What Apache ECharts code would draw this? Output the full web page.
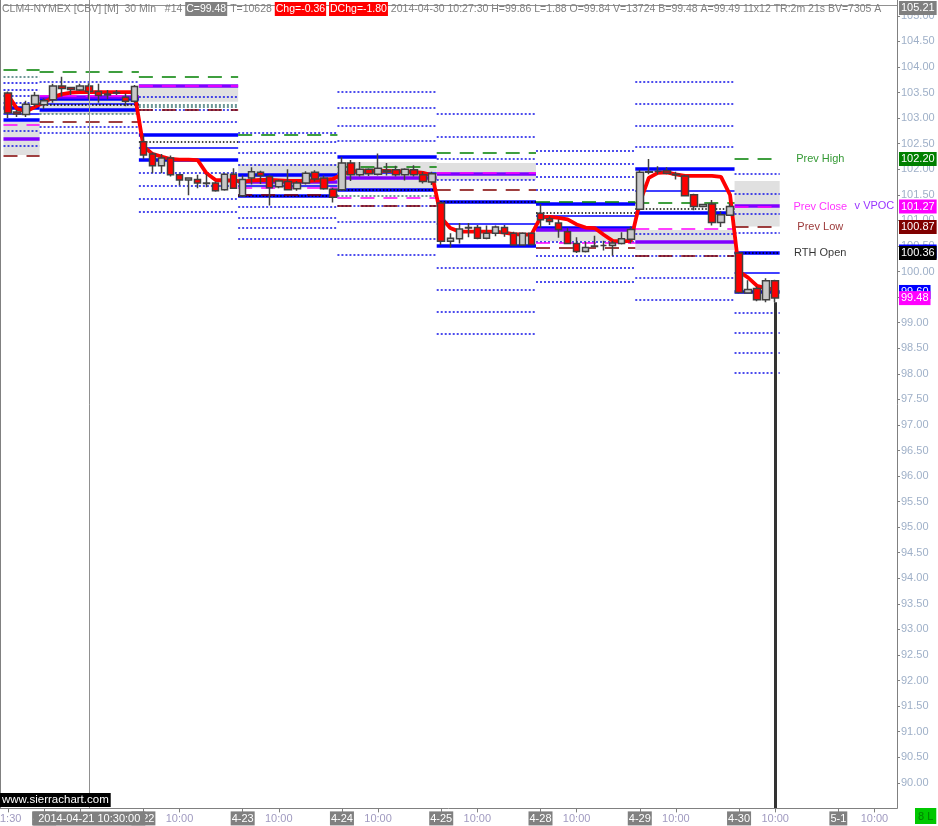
<!DOCTYPE html>
<html><head><meta charset="utf-8">
<script src="https://cdn.jsdelivr.net/npm/echarts@6/dist/echarts.min.js"></script>
<style>html,body{margin:0;padding:0;background:#fff}#c{width:938px;height:826px}</style>
</head><body><div id="c"></div>
<script>
// ---------- categories (30-min bars, RTH sessions) ----------
const sessionTimes = ['08:00','08:30','09:00','09:30','10:00','10:30','11:00','11:30','12:00','12:30','13:00'];
const sessionDays = ['04-21','04-22','04-23','04-24','04-25','04-28','04-29','04-30'];
const firstBars = ['04-17 11:30','04-17 12:00','04-17 12:30','04-17 13:00'];
const lastBars = ['05-01 08:00','05-01 08:30','05-01 09:00','05-01 09:30','05-01 10:00','05-01 10:30','05-01 11:00'];
const categories = firstBars.concat(...sessionDays.map(d => sessionTimes.map(t => d + ' ' + t))).concat(lastBars);

const tickLabels = {
  '04-17 11:30':'11:30','04-21 08:00':'4-21','04-21 10:00':'10:00','04-22 08:00':'4-22','04-22 10:00':'10:00',
  '04-23 08:00':'4-23','04-23 10:00':'10:00','04-24 08:00':'4-24','04-24 10:00':'10:00','04-25 08:00':'4-25',
  '04-25 10:00':'10:00','04-28 08:00':'4-28','04-28 10:00':'10:00','04-29 08:00':'4-29','04-29 10:00':'10:00',
  '04-30 08:00':'4-30','04-30 10:00':'10:00','05-01 08:00':'5-1','05-01 10:00':'10:00'
};

// ---------- OHLC ----------
const open = [103.49,103.12,103.07,103.27,
  103.26,103.36,103.63,103.60,103.55,103.63,103.52,103.47,103.50,103.41,103.33,
  102.54,102.30,102.07,102.22,101.89,101.79,101.80,101.73,101.73,101.60,101.90,
  101.48,101.83,101.94,101.86,101.66,101.76,101.62,101.73,101.94,101.83,101.61,
  101.60,102.12,101.89,102.00,101.90,101.98,101.99,101.89,101.99,101.89,101.75,
  101.34,100.59,100.64,100.85,100.86,100.65,100.75,100.86,100.75,100.52,100.75,
  101.14,101.03,100.95,100.78,100.55,100.39,100.50,100.51,100.51,100.55,100.63,
  101.22,101.94,101.96,101.97,101.90,101.87,101.50,101.27,101.32,100.96,101.10,
  100.36,99.58,99.67,99.45,99.82];
const close = [103.10,103.08,103.27,103.44,
  103.34,103.63,103.58,103.56,103.63,103.52,103.44,103.45,103.49,103.33,103.62,
  102.28,102.07,102.22,101.89,101.79,101.83,101.73,101.72,101.58,101.90,101.63,
  101.80,101.95,101.88,101.64,101.77,101.60,101.73,101.92,101.81,101.62,101.45,
  102.12,101.89,102.00,101.91,102.02,101.95,101.89,102.00,101.89,101.76,101.91,
  100.59,100.65,100.83,100.86,100.65,100.75,100.87,100.75,100.52,100.75,100.53,
  101.01,100.98,100.82,100.55,100.39,100.47,100.49,100.51,100.56,100.64,100.82,
  101.94,101.95,101.96,101.92,101.89,101.48,101.27,101.31,100.96,101.11,101.27,
  99.59,99.65,99.45,99.82,99.48];
const low = [103.00,103.02,103.02,103.22,
  103.18,103.30,103.43,103.45,103.53,103.37,103.30,103.37,103.45,103.23,103.30,
  102.20,101.92,101.92,101.86,101.68,101.49,101.63,101.65,101.56,101.58,101.62,
  101.46,101.70,101.71,101.29,101.63,101.59,101.58,101.70,101.76,101.60,101.35,
  101.58,101.77,101.86,101.87,101.88,101.88,101.86,101.78,101.86,101.72,101.69,
  100.52,100.47,100.55,100.67,100.63,100.63,100.69,100.68,100.51,100.51,100.51,
  100.85,100.91,100.66,100.54,100.36,100.37,100.48,100.41,100.31,100.53,100.55,
  101.20,101.90,101.90,101.90,101.80,101.48,101.20,101.25,100.90,100.87,101.09,
  99.57,99.57,99.42,99.40,99.40];
const high = [103.52,103.17,103.34,103.51,
  103.39,103.67,103.81,103.61,103.67,103.68,103.67,103.55,103.55,103.48,103.65,
  102.66,102.33,102.30,102.27,101.91,101.84,101.89,101.90,101.76,101.92,102.02,
  101.88,102.04,101.97,101.89,101.80,102.00,101.77,101.96,101.98,101.88,101.64,
  102.24,102.18,102.14,102.02,102.31,102.12,102.07,102.02,102.08,101.95,101.95,
  101.36,100.75,100.95,100.95,100.91,100.90,100.90,100.91,100.78,100.77,100.77,
  101.32,101.08,101.02,100.85,100.67,100.58,100.70,100.60,100.60,100.77,100.88,
  101.99,102.20,102.06,102.04,101.95,101.89,101.52,101.32,101.40,101.18,101.33,
  100.37,99.83,99.71,99.87,99.84];

// red average line
const avgLine = [103.45,103.18,103.13,103.22,
  103.31,103.41,103.47,103.50,103.51,103.51,103.51,103.51,103.51,103.51,103.51,
  102.45,102.30,102.25,102.20,102.19,102.19,102.18,101.92,101.79,101.78,101.78,
  101.76,101.78,101.79,101.79,101.78,101.77,101.77,101.77,101.78,101.79,101.81,
  101.90,101.96,101.97,101.97,101.97,101.97,101.96,101.96,101.95,101.93,101.88,
  101.05,100.85,100.78,100.78,100.78,100.78,100.78,100.76,100.73,100.72,100.72,
  101.06,101.07,101.05,101.02,100.92,100.86,100.85,100.72,100.60,100.59,100.60,
  101.35,101.83,101.93,101.94,101.90,101.87,101.87,101.87,101.87,101.85,101.50,
  100.00,99.88,99.72,99.67,99.65];

// ---------- daily reference levels ----------
const levelDays = ['04-17','04-21','04-22','04-23','04-24','04-25','04-28','04-29','04-30'];
const orHigh   = [103.19,103.38,102.67,101.89,102.24,101.36,101.33,102.00,100.37];
const orLow    = [102.96,103.16,102.18,101.48,101.60,100.50,100.85,101.14,99.60];
const orMid    = [103.08,103.27,102.42,101.68,101.92,100.93,101.09,101.57,99.98];
const rthOpen  = [null,103.25,102.53,101.48,101.60,101.35,101.14,101.22,100.36];
const prevHigh = [103.94,103.90,103.80,102.67,102.04,102.31,101.35,101.34,102.20];
const prevLow  = [102.26,102.92,103.16,101.49,101.28,101.59,100.46,100.30,100.87];
const prevClose= [102.86,103.44,103.63,101.63,101.43,101.92,100.55,100.83,101.27];
const vpoc     = [102.59,103.41,103.62,101.76,101.83,101.90,100.81,100.57,101.29];
const vaHigh   = [102.93,103.42,103.63,102.10,102.14,102.12,100.85,100.81,101.77];
const vaLow    = [102.28,103.08,103.32,101.63,101.60,101.79,100.59,100.42,100.88];
const orExt = [
  [103.68,103.55,103.44,103.30,102.75,102.45],
  [103.70,102.82,102.71],
  [103.41,103.16,102.92,101.92,101.68,101.42,101.17],
  [102.71,102.53,102.31,102.09,101.26,101.04,100.85,100.63],
  [103.52,103.19,102.85,102.56,101.28,100.96,100.64,100.33],
  [103.08,102.64,102.21,101.79,100.07,99.64,99.21,98.78],
  [102.36,102.10,101.85,101.60,100.57,100.31,100.07,99.80],
  [103.70,103.27,102.84,102.43,100.73,100.30,99.88,99.45],
  [101.90,101.51,101.13,100.75,99.19,98.79,98.40,98.01]
];
const settleLevels = [[103.80],[103.08],[103.26,103.21],[],[101.47],[],[],[],[]];

// right-axis price tags
const tagValues = [105.21,102.20,101.27,100.87,100.39,100.36,99.60,99.48];
const tagColors = ['#808080','#008000','#ff00ff','#800000','#0000ff','#000000','#0000ff','#ff00ff'];

// text annotations
const annoTexts  = ['Prev High','Prev Close','v VPOC','Prev Low','RTH Open'];
const annoValues = [102.20,101.27,101.29,100.87,100.36];
const annoCats   = ['04-30 12:30','04-30 12:30','05-01 10:00','04-30 12:30','04-30 12:30'];
const annoColors = ['#008000','#ff00ff','#8000ff','#800000','#000000'];

const cursorBar = '04-21 10:30';
const lastBar = '04-30 10:00';

// ---------- build ----------
const FONT = 'Liberation Sans, Arial, sans-serif';
const candleData = categories.map((c, i) => i < open.length ? [open[i], close[i], low[i], high[i]] : ['-','-','-','-']);
const avgData = categories.map((c, i) => i < avgLine.length ? avgLine[i] : null);

const dayRange = levelDays.map(d => {
  const idx = categories.map((c, i) => i).filter(i => categories[i].startsWith(d) && i < open.length);
  return [idx[0], idx[idx.length - 1]];
});

const levelStyles = [
  {stroke:'#0000e6', lineWidth:1.4, lineDash:[2,2]},
  {stroke:'#2f6b6b', lineWidth:1.4, lineDash:[2,2]},
  {stroke:'#0000ff', lineWidth:1.6},
  {stroke:'#0000ff', lineWidth:3.5},
  {stroke:'#000000', lineWidth:1.5, lineDash:[1.5,2]},
  {stroke:'#8000ff', lineWidth:3.5},
  {stroke:'#008000', lineWidth:1.6, lineDash:[14,9]},
  {stroke:'#800000', lineWidth:1.6, lineDash:[14,9]},
  {stroke:'#ff00ff', lineWidth:1.6, lineDash:[14,9]}
];
const segs = [];
const boxes = [];
function addSeg(di, v, k) { if (v == null) return; const r = dayRange[di]; segs.push([r[0], r[1], v, k]); }
levelDays.forEach((d, di) => {
  boxes.push([dayRange[di][0], dayRange[di][1], vaHigh[di], vaLow[di]]);
  orExt[di].forEach(v => addSeg(di, v, 0));
  settleLevels[di].forEach(v => addSeg(di, v, 1));
  addSeg(di, orMid[di], 2);
  addSeg(di, orHigh[di], 3); addSeg(di, orLow[di], 3);
  addSeg(di, rthOpen[di], 4);
  addSeg(di, vpoc[di], 5);
  addSeg(di, prevHigh[di], 6); addSeg(di, prevLow[di], 7); addSeg(di, prevClose[di], 8);
});

const chart = echarts.init(document.getElementById('c'), null, {renderer:'canvas'});
const option = {
  animation: false,
  backgroundColor: '#ffffff',
  textStyle: {fontFamily: FONT},
  grid: {left: 3.5, right: 41, top: 0, bottom: 17.6, show: false, outerBoundsMode: 'none', containLabel: false},
  xAxis: {
    type: 'category', data: categories, boundaryGap: true,
    axisLine: {show: false},
    axisTick: {show: true, alignWithLabel: true, length: 4, lineStyle: {color: '#808080'},
      interval: (i) => tickLabels[categories[i]] !== undefined},
    axisLabel: {
      interval: (i) => tickLabels[categories[i]] !== undefined,
      margin: 3, fontSize: 11, fontFamily: FONT,
      formatter: (val) => { const t = tickLabels[val]; if (!t) return ''; return t.indexOf('-') >= 0 ? '{d|' + t + '}' : '{t|' + t + '}'; },
      rich: {
        d: {backgroundColor: '#808080', color: '#ffffff', padding: [2,1,1,1], fontSize: 11, fontFamily: FONT},
        t: {color: '#a09ac0', fontSize: 11, fontFamily: FONT, padding: [2,0,1,0]}
      }
    },
    splitLine: {show: false}
  },
  yAxis: {
    type: 'value', position: 'right', min: 89.5, max: 105.31, interval: 0.5, scale: true,
    axisLine: {show: true, lineStyle: {color: '#808080'}},
    axisTick: {show: true, length: 3, lineStyle: {color: '#808080'}},
    axisLabel: {formatter: v => v.toFixed(2), color: '#9fb0c8', fontSize: 11, fontFamily: FONT, margin: 4,
      showMinLabel: false, showMaxLabel: false},
    splitLine: {show: false}
  },
  series: [
    {
      type: 'custom', name: 'valueArea', z: 1, silent: true, data: boxes,
      encode: {x: [0, 1], y: [2, 3]},
      renderItem: (params, api) => {
        const a = api.coord([api.value(0), api.value(2)]);
        const b = api.coord([api.value(1), api.value(3)]);
        const half = api.size([1, 0])[0] / 2;
        return {type: 'rect', shape: {x: a[0] - half, y: a[1], width: b[0] - a[0] + 2 * half, height: b[1] - a[1]},
          style: {fill: '#e0e0e0'}};
      }
    },
    {
      type: 'custom', name: 'levels', z: 2, silent: true, data: segs,
      encode: {x: [0, 1], y: 2},
      renderItem: (params, api) => {
        const a = api.coord([api.value(0), api.value(2)]);
        const b = api.coord([api.value(1), api.value(2)]);
        const half = api.size([1, 0])[0] / 2;
        const y = Math.round(a[1]);
        return {type: 'line', shape: {x1: a[0] - half, y1: y, x2: b[0] + half, y2: y},
          style: Object.assign({fill: null}, levelStyles[api.value(3)])};
      }
    },
    {
      type: 'line', name: 'avg', z: 3, data: avgData, symbol: 'none', connectNulls: false, silent: true,
      lineStyle: {color: '#ff0000', width: 3.8}
    },
    {
      type: 'candlestick', name: 'CLM4', z: 4, data: candleData, barWidth: 7, silent: true,
      itemStyle: {color: '#c8c8c8', color0: '#ff0000', borderColor: '#404040', borderColor0: '#404040', borderWidth: 1.5},
      markLine: {
        silent: true, symbol: 'none', animation: false,
        data: [
          {xAxis: cursorBar, lineStyle: {color: '#909090', width: 1, type: 'solid'},
           label: {show: true, position: 'start', distance: 3, formatter: '2014-04-21 10:30:00', color: '#ffffff',
             backgroundColor: '#808080', padding: [2,5,1,5], fontSize: 11, fontFamily: FONT}},
          [{coord: [lastBar, low[85]], lineStyle: {color: '#333333', width: 3, type: 'solid'}, label: {show: false}},
           {coord: [lastBar, 89.5]}]
        ]
      }
    },
    {
      type: 'line', name: 'tags', z: 10, data: [], silent: true,
      markLine: {
        silent: true, symbol: 'none', animation: false,
        data: tagValues.map((v, i) => ({
          yAxis: v,
          lineStyle: i === 0 ? {color: '#909090', width: 1, type: 'solid'} : {color: 'rgba(0,0,0,0)', width: 0},
          label: {show: true, position: 'end', distance: 2, formatter: v.toFixed(2), color: '#ffffff',
            backgroundColor: tagColors[i], padding: [2,2,1,2], fontSize: 11, fontFamily: FONT,
            offset: i === 0 ? [0, 3] : [0, 0]}
        }))
      }
    },
    {
      type: 'scatter', name: 'notes', z: 10, silent: true, symbolSize: 0,
      data: annoTexts.map((t, i) => [annoCats[i], annoValues[i]]),
      label: {show: true, position: 'inside', fontSize: 11, fontFamily: FONT,
        formatter: p => annoTexts[p.dataIndex],
        color: 'inherit'},
      itemStyle: {color: p => annoColors[p.dataIndex]}
    }
  ],
  graphic: [
    {type: 'line', z: 50, shape: {x1: 0.5, y1: 0, x2: 0.5, y2: 808}, style: {stroke: '#808080', lineWidth: 1}},
    {type: 'line', z: 50, shape: {x1: 0, y1: 808.5, x2: 897, y2: 808.5}, style: {stroke: '#808080', lineWidth: 1}},
    {type: 'text', z: 60, left: 2, top: 2, style: {
      text: '{g|CLM4-NYMEX [CBV] [M]  30 Min   #14 }{k|C=99.48}{g| T=10628 }{r|Chg=-0.36}{g| }{r|DChg=-1.80}{g| 2014-04-30 10:27:30 H=99.86 L=1.88 O=99.84 V=13724 B=99.48 A=99.49 11x12 TR:2m 21s BV=7305 A}',
      font: '10.5px ' + FONT,
      rich: {
        g: {fill: '#808080', font: '10.5px ' + FONT},
        k: {fill: '#ffffff', backgroundColor: '#808080', padding: [2,1,1,1], font: '10.5px ' + FONT},
        r: {fill: '#ffffff', backgroundColor: '#ff0000', padding: [2,1,1,1], font: '10.5px ' + FONT}
      }}},
    {type: 'text', z: 60, left: 0, top: 793, style: {text: 'www.sierrachart.com', fill: '#ffffff', backgroundColor: '#000000',
      padding: [1,2,1,2], font: '11.5px ' + FONT}},
    {type: 'text', z: 60, left: 915, top: 808, style: {text: '8 L', fill: '#008000', backgroundColor: '#00c800',
      padding: [3,3,2,3], font: '11px ' + FONT}}
  ]
};
chart.setOption(option);
</script>
</body></html>
